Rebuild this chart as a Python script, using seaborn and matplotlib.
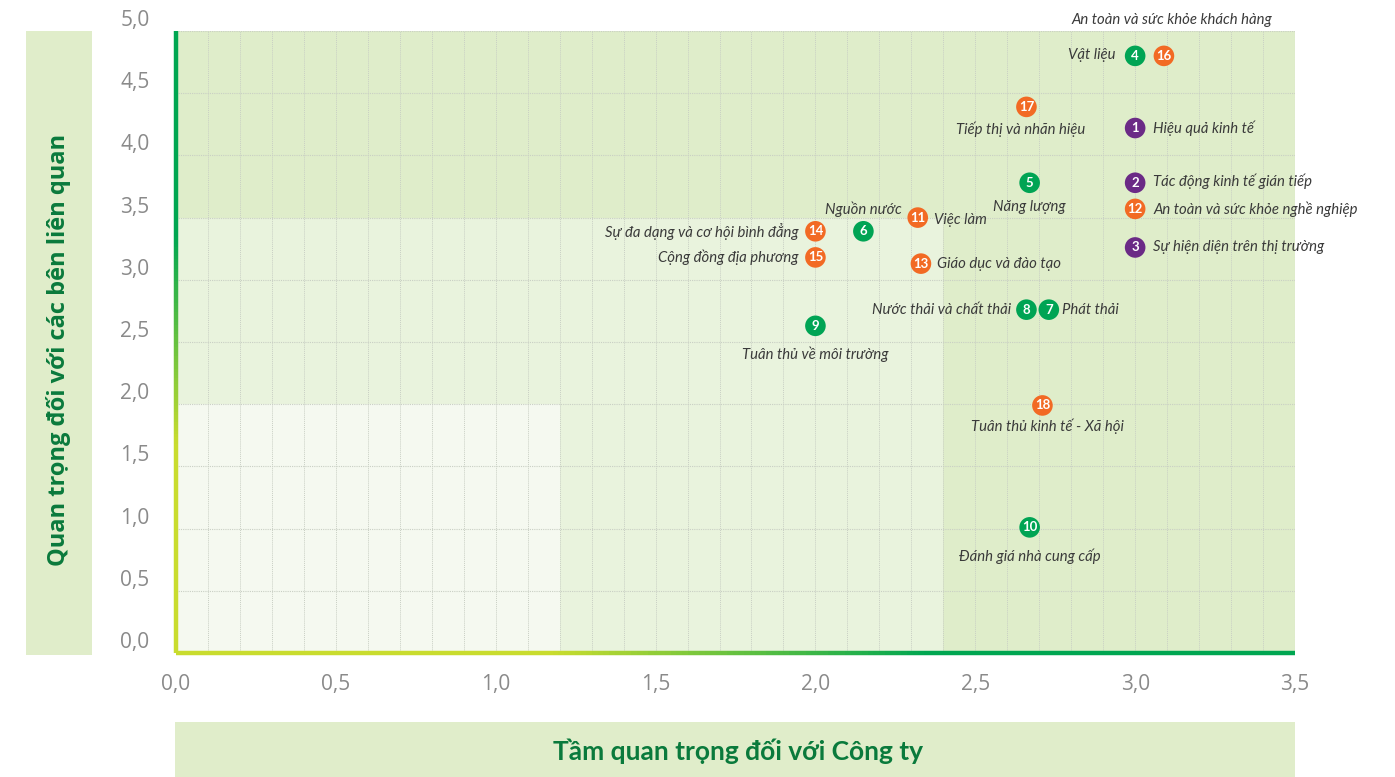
import numpy as np
import pandas as pd
import matplotlib.pyplot as plt
import seaborn as sns
from matplotlib.collections import LineCollection
from matplotlib.patches import Rectangle
from matplotlib.colors import LinearSegmentedColormap

ids = [1, 2, 3, 4, 5, 6, 7, 8, 9, 10, 11, 12, 13, 14, 15, 16, 17, 18]
topics = [
    'Hiệu quả kinh tế', 'Tác động kinh tế gián tiếp', 'Sự hiện diện trên thị trường',
    'Vật liệu', 'Năng lượng', 'Nguồn nước', 'Phát thải', 'Nước thải và chất thải',
    'Tuân thủ về môi trường', 'Đánh giá nhà cung cấp', 'Việc làm',
    'An toàn và sức khỏe nghề nghiệp', 'Giáo dục và đào tạo',
    'Sự đa dạng và cơ hội bình đẳng', 'Cộng đồng địa phương',
    'An toàn và sức khỏe khách hàng', 'Tiếp thị và nhãn hiệu',
    'Tuân thủ kinh tế - Xã hội',
]
groups = ['Kinh tế'] * 3 + ['Môi trường'] * 7 + ['Xã hội'] * 8
company = [3.0, 3.0, 3.0, 3.0, 2.67, 2.15, 2.73, 2.66, 2.0, 2.67,
           2.32, 3.0, 2.33, 2.0, 2.0, 3.09, 2.66, 2.71]
stakeholder = [4.22, 3.78, 3.26, 4.80, 3.78, 3.39, 2.76, 2.76, 2.63, 1.01,
               3.50, 3.57, 3.13, 3.39, 3.18, 4.80, 4.39, 1.99]

x_ticks = [0.0, 0.5, 1.0, 1.5, 2.0, 2.5, 3.0, 3.5]
y_ticks = [0.0, 0.5, 1.0, 1.5, 2.0, 2.5, 3.0, 3.5, 4.0, 4.5, 5.0]

df = pd.DataFrame({'id': ids, 'topic': topics, 'group': groups,
                   'company': company, 'stakeholder': stakeholder})

group_color = {'Kinh tế': '#6b2a86', 'Môi trường': '#00a454', 'Xã hội': '#f26a24'}

# label placement in pixels: (dx, dy up, ha)
label_pos = {
    1: (18, 0, 'left'), 2: (18, 2, 'left'), 3: (18, 0, 'left'),
    4: (-20, 1, 'right'), 5: (0, -24, 'center'), 6: (0, 22, 'center'),
    7: (13, 0, 'left'), 8: (-15, 0, 'right'), 9: (0, -28, 'center'),
    10: (0, -29, 'center'), 11: (16, -2, 'left'), 12: (18, 0, 'left'),
    13: (16, 0, 'left'), 14: (-17, 0, 'right'), 15: (-17, 0, 'right'),
    16: (8, 36, 'center'), 17: (-6, -22, 'center'), 18: (5, -21, 'center'),
}

W, H = 1395, 777
fig = plt.figure(figsize=(W / 100, H / 100), dpi=100)
ax = fig.add_axes([176 / W, 1 - 653 / H, (1295 - 176) / W, (653 - 31) / H])
fig.patch.set_facecolor('white')

ax.set_xlim(0, 3.5)
ax.set_ylim(0, 5)

# background zones
ax.set_facecolor('#dfedca')
ax.add_patch(Rectangle((0, 0), 2.4, 3.5, facecolor='#e9f3dd', edgecolor='none', zorder=0))
ax.add_patch(Rectangle((0, 0), 1.2, 2.0, facecolor='#f5f9f0', edgecolor='none', zorder=0.1))

# grid
for xv in np.arange(0.1, 3.5, 0.1):
    ax.axvline(xv, color='#c9cfc4', lw=0.7, ls=(0, (1, 1)), zorder=0.5)
for yv in y_ticks[1:]:
    ax.axhline(yv, color='#c9cfc4', lw=0.8, ls=(0, (1, 1)), zorder=0.5)
ax.axvline(3.5, color='#d0d6cb', lw=0.8, ls=(0, (1, 1)), zorder=0.5)

for s in ax.spines.values():
    s.set_visible(False)

# gradient axis lines
cmap = LinearSegmentedColormap.from_list('ax', ['#c9dc2e', '#c9dc2e', '#00a651', '#00a651'],
                                         N=256)
t = np.linspace(0, 1, 200)
seg_b = [[(t[i], 0), (t[i + 1], 0)] for i in range(len(t) - 1)]
lc_b = LineCollection(seg_b, colors=[cmap(v) for v in t[:-1]], linewidths=3.2,
                      transform=ax.transAxes, clip_on=False, zorder=6, capstyle='butt')
ax.add_collection(lc_b)
seg_l = [[(0, t[i]), (0, t[i + 1])] for i in range(len(t) - 1)]
lc_l = LineCollection(seg_l, colors=[cmap(v) for v in t[:-1]], linewidths=3.2,
                      transform=ax.transAxes, clip_on=False, zorder=6, capstyle='butt')
ax.add_collection(lc_l)

sns.scatterplot(data=df, x='company', y='stakeholder', hue='group',
                palette=group_color, s=220, edgecolor='none', legend=False,
                ax=ax, zorder=7, clip_on=False)

txt_font = ['Lato', 'Noto Sans', 'DejaVu Sans']
for _, r in df.iterrows():
    ax.annotate(str(r['id']), (r['company'], r['stakeholder']),
                ha='center', va='center', color='white', fontsize=9.5,
                fontweight='bold', family=txt_font, zorder=8)
    dx, dy, ha = label_pos[r['id']]
    ax.annotate(r['topic'], (r['company'], r['stakeholder']),
                xytext=(dx * 0.72, dy * 0.72), textcoords='offset points',
                ha=ha, va='center', color='#3a3a3a', fontsize=10.7,
                style='italic', family=txt_font, zorder=8)

ax.set_xticks(x_ticks)
ax.set_yticks(y_ticks)
ax.set_xticklabels([f'{v:.1f}'.replace('.', ',') for v in x_ticks])
ax.set_yticklabels([f'{v:.1f}'.replace('.', ',') for v in y_ticks])
ax.tick_params(axis='both', length=0, labelsize=15, labelcolor='#8a8a8a')
ax.tick_params(axis='y', pad=19)
ax.tick_params(axis='x', pad=15)
for lab in ax.get_yticklabels():
    lab.set_verticalalignment('bottom')
    lab.set_family(['Open Sans', 'DejaVu Sans'])
for lab in ax.get_xticklabels():
    lab.set_family(['Open Sans', 'DejaVu Sans'])
ax.set_xlabel('')
ax.set_ylabel('')

# axis title boxes
fig.patches.append(Rectangle((26 / W, 1 - 655 / H), 66 / W, 624 / H,
                             facecolor='#e0edca', edgecolor='none',
                             transform=fig.transFigure, zorder=0))
fig.patches.append(Rectangle((175 / W, 0), 1120 / W, 55 / H,
                             facecolor='#e0edca', edgecolor='none',
                             transform=fig.transFigure, zorder=0))
fig.text(59 / W, 1 - 350 / H, 'Quan trọng đối với các bên liên quan',
         rotation=90, ha='center', va='center', color='#0a7a3c',
         fontsize=17, fontweight='bold', family=['Open Sans', 'DejaVu Sans'])
fig.text(738 / W, 1 - 751 / H, 'Tầm quan trọng đối với Công ty',
         ha='center', va='center', color='#0a7a3c',
         fontsize=19, fontweight='bold', family=txt_font)

fig.savefig('out.png', dpi=100)
